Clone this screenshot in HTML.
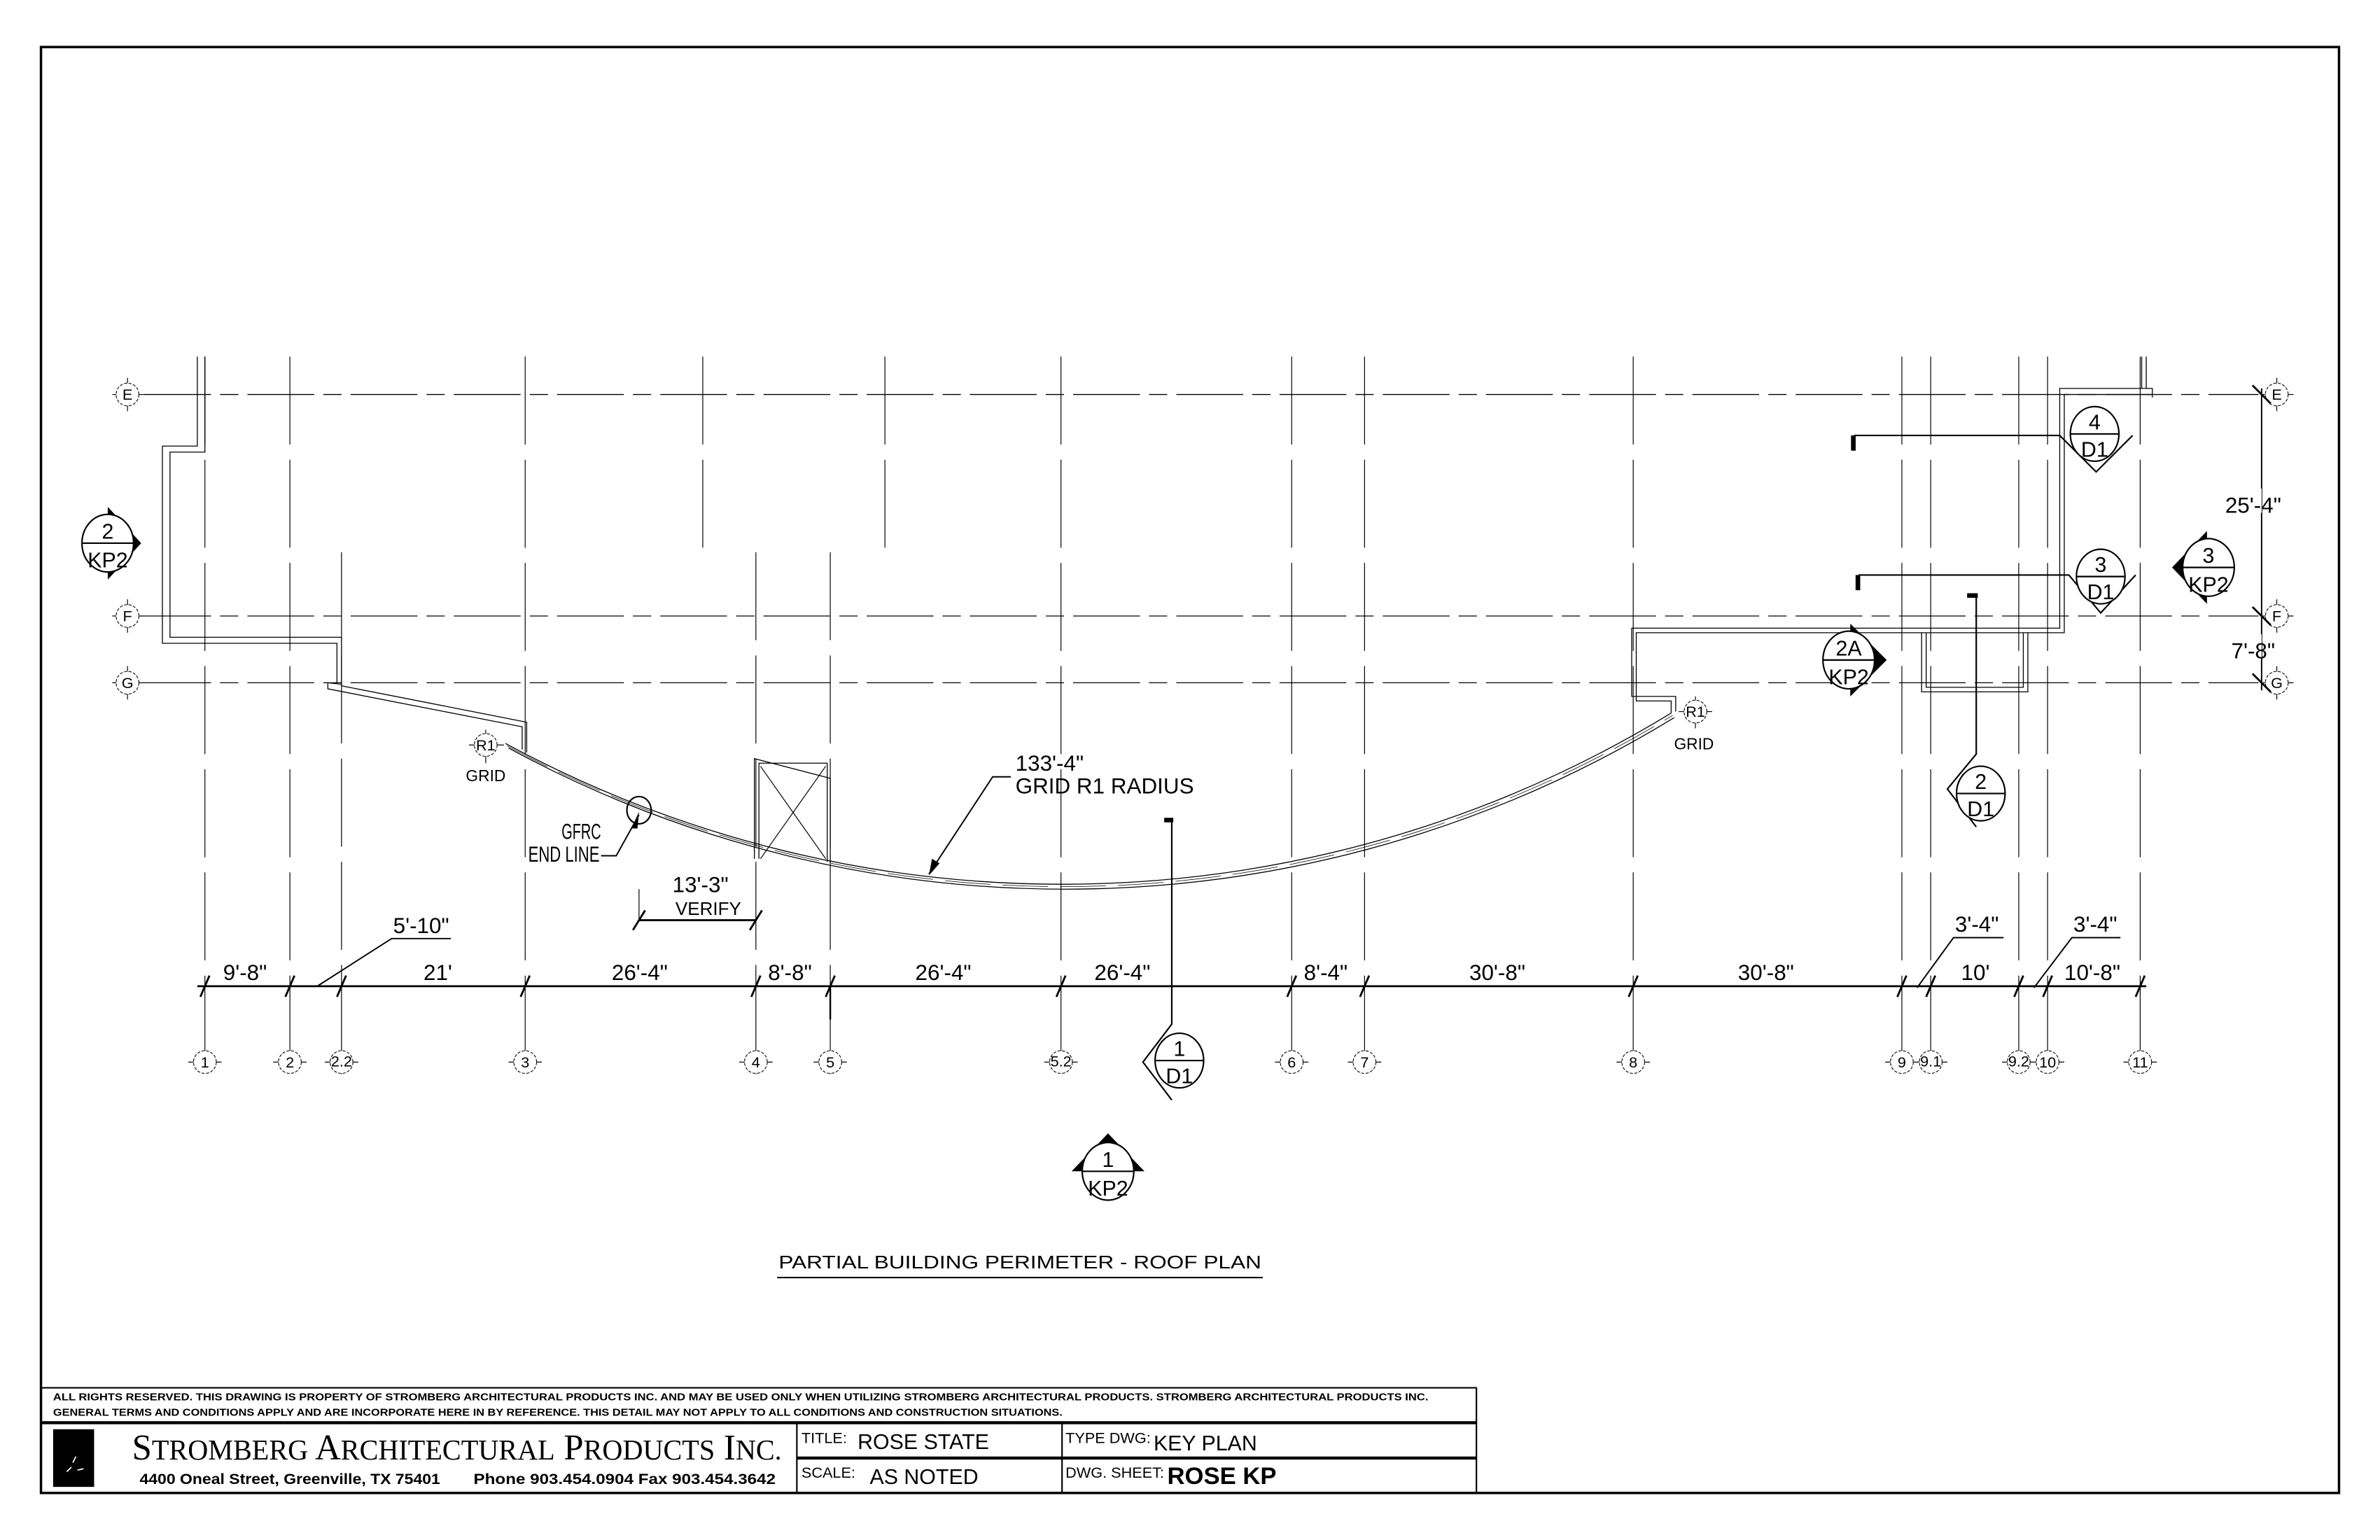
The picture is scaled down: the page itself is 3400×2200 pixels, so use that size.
<!DOCTYPE html>
<html><head><meta charset="utf-8"><style>
html,body{margin:0;padding:0;background:#fff;}
svg{display:block;}
text{font-family:"Liberation Sans Narrow","Liberation Sans",sans-serif;fill:#000;}
.g{stroke:#000;stroke-width:0.55;fill:none;}
.gh{stroke:#000;stroke-width:0.6;fill:none;stroke-dasharray:44 6 12 6;}
.gv{stroke:#000;stroke-width:0.55;fill:none;stroke-dasharray:58 10;}
.w{stroke:#000;stroke-width:0.6;fill:none;}
.d{stroke:#000;stroke-width:1.3;fill:none;}
.dim{font-size:14.5px;}
.gl{font-size:10px;text-anchor:middle;}
.mk{font-size:14px;text-anchor:middle;}
.bub{stroke:#000;stroke-width:0.5;fill:#fff;stroke-dasharray:2 1;}
</style></head><body>
<svg width="3400" height="2200" viewBox="0 0 1568 1015" preserveAspectRatio="none" xmlns="http://www.w3.org/2000/svg">
<rect x="0" y="0" width="1568" height="1015" fill="#fff"/>
<rect x="27" y="31" width="1514" height="953" fill="none" stroke="#000" stroke-width="1.6"/>

<line class="gh" x1="95" y1="260" x2="1488" y2="260"/>
<line class="gh" x1="95" y1="406" x2="1488" y2="406"/>
<line class="gh" x1="95" y1="450" x2="1488" y2="450"/>

<g class="gv">
<line x1="135" y1="235" x2="135" y2="708"/>
<line x1="191" y1="235" x2="191" y2="708"/>
<line x1="225" y1="364" x2="225" y2="708"/>
<line x1="346" y1="235" x2="346" y2="708"/>
<line x1="463" y1="235" x2="463" y2="364"/>
<line x1="583" y1="235" x2="583" y2="364"/>
<line x1="498" y1="364" x2="498" y2="708"/>
<line x1="547" y1="364" x2="547" y2="708"/>
<line x1="699" y1="235" x2="699" y2="708"/>
<line x1="851" y1="235" x2="851" y2="708"/>
<line x1="899" y1="235" x2="899" y2="708"/>
<line x1="1076" y1="235" x2="1076" y2="708"/>
<line x1="1253" y1="235" x2="1253" y2="708"/>
<line x1="1272" y1="235" x2="1272" y2="708"/>
<line x1="1330" y1="235" x2="1330" y2="708"/>
<line x1="1349" y1="235" x2="1349" y2="708"/>
<line x1="1410" y1="235" x2="1410" y2="708"/>
</g>

<g>
<line class="g" x1="74" y1="260" x2="95" y2="260"/><line class="g" x1="84" y1="249" x2="84" y2="271"/>
<circle class="bub" cx="84" cy="260" r="7.5"/><text class="gl" x="84" y="263.5">E</text>
<line class="g" x1="74" y1="406" x2="95" y2="406"/><line class="g" x1="84" y1="395" x2="84" y2="417"/>
<circle class="bub" cx="84" cy="406" r="7.5"/><text class="gl" x="84" y="409.5">F</text>
<line class="g" x1="74" y1="450" x2="95" y2="450"/><line class="g" x1="84" y1="439" x2="84" y2="461"/>
<circle class="bub" cx="84" cy="450" r="7.5"/><text class="gl" x="84" y="453.5">G</text>
</g>
<g>
<line class="g" x1="1490" y1="260" x2="1511" y2="260"/><line class="g" x1="1500" y1="249" x2="1500" y2="271"/>
<circle class="bub" cx="1500" cy="260" r="7.5"/><text class="gl" x="1500" y="263.5">E</text>
<line class="g" x1="1490" y1="406" x2="1511" y2="406"/><line class="g" x1="1500" y1="395" x2="1500" y2="417"/>
<circle class="bub" cx="1500" cy="406" r="7.5"/><text class="gl" x="1500" y="409.5">F</text>
<line class="g" x1="1490" y1="450" x2="1511" y2="450"/><line class="g" x1="1500" y1="439" x2="1500" y2="461"/>
<circle class="bub" cx="1500" cy="450" r="7.5"/><text class="gl" x="1500" y="453.5">G</text>
</g>
<line x1="1490" y1="256" x2="1490" y2="455" stroke="#000" stroke-width="0.9"/>
<line x1="1484" y1="254" x2="1496" y2="266" class="d"/>
<line x1="1484" y1="400" x2="1496" y2="412" class="d"/>
<line x1="1484" y1="444" x2="1496" y2="456" class="d"/>
<rect x="1462" y="322" width="28" height="16" fill="#fff"/>
<text class="dim" x="1466" y="338">25'-4"</text>
<rect x="1462" y="418" width="28" height="16" fill="#fff"/>
<text class="dim" x="1470" y="434">7'-8"</text>

<path class="w" d="M130,235 V294 H107 V424 H222 V450 M135,235 V298 H112 V420 H225 V452"/>
<path class="w" d="M216,450 L225,451 M216,450 L216,454 L344,479 V494 M225,452 L347,476 V496"/>
<path class="w" d="M333,490 A770.6,770.6 0 0 0 1101,470"/>
<path class="w" d="M335,493 A769,769 0 0 0 1103,473"/>
<path d="M334,491.5 A770,770 0 0 0 1102,471.5" stroke="#000" stroke-width="0.35" fill="none" stroke-dasharray="30 8"/>
<path class="w" d="M1101,470 V462 H1078 V417 H1360 V260 H1418 M1104,469 V459 H1075 V414 H1357 V256 H1418 V262 M1411,235 V256 M1414,235 V256"/>
<path class="w" d="M1266,417 V456 H1336 V417 M1269,417 V453 H1333 V417"/>
<path class="w" d="M497,566 V500 L547,513 V569 M500,566 V503 H545 V568"/>
<line class="g" x1="501" y1="505" x2="544" y2="566"/><line class="g" x1="544" y1="505" x2="501" y2="566"/>

<line class="g" x1="309" y1="491" x2="332" y2="491"/><line class="g" x1="320" y1="481" x2="320" y2="503"/>
<circle class="bub" cx="320" cy="491" r="7.5"/><text class="gl" x="320" y="494.5">R1</text>
<text x="320" y="515" font-size="10.5" text-anchor="middle" style="font-family:'Liberation Sans',sans-serif">GRID</text>
<line class="g" x1="1106" y1="469" x2="1128" y2="469"/><line class="g" x1="1117" y1="459" x2="1117" y2="480"/>
<circle class="bub" cx="1117" cy="469" r="7.5"/><text class="gl" x="1117" y="472.5">R1</text>
<text x="1116" y="494" font-size="10.5" text-anchor="middle" style="font-family:'Liberation Sans',sans-serif">GRID</text>

<!-- GFRC -->
<ellipse cx="421" cy="534" rx="8" ry="9" fill="none" stroke="#000" stroke-width="1"/>
<path d="M421,537 L406,564 H396" stroke="#000" stroke-width="0.9" fill="none"/>
<polygon points="421,535 416,546 420,546" fill="#000"/>
<text class="dim" x="370" y="553" textLength="26" lengthAdjust="spacingAndGlyphs">GFRC</text>
<text class="dim" x="348" y="568" textLength="47" lengthAdjust="spacingAndGlyphs">END LINE</text>

<text class="dim" x="669" y="508">133'-4"</text>
<text class="dim" x="669" y="523">GRID R1 RADIUS</text>
<path d="M666,512 H654 L612,576" stroke="#000" stroke-width="0.9" fill="none"/>
<polygon points="612,577 614,566 619,569" fill="#000"/>

<!-- 13'-3" verify -->
<text class="dim" x="443" y="588">13'-3"</text>
<text x="445" y="603" font-size="12">VERIFY</text>
<line x1="421" y1="606.5" x2="498" y2="606.5" class="d"/>
<line x1="417" y1="613" x2="425" y2="600" class="d"/>
<line x1="494" y1="613" x2="502" y2="600" class="d"/>
<line x1="421" y1="586" x2="421" y2="606" class="g"/>

<line x1="130" y1="650" x2="1414" y2="650" stroke="#000" stroke-width="1.3"/>
<g class="d">
<line x1="132" y1="657" x2="138" y2="643"/>
<line x1="188" y1="657" x2="194" y2="643"/>
<line x1="222" y1="657" x2="228" y2="643"/>
<line x1="343" y1="657" x2="349" y2="643"/>
<line x1="495" y1="657" x2="501" y2="643"/>
<line x1="544" y1="657" x2="550" y2="643"/>
<line x1="696" y1="657" x2="702" y2="643"/>
<line x1="848" y1="657" x2="854" y2="643"/>
<line x1="896" y1="657" x2="902" y2="643"/>
<line x1="1073" y1="657" x2="1079" y2="643"/>
<line x1="1250" y1="657" x2="1256" y2="643"/>
<line x1="1269" y1="657" x2="1275" y2="643"/>
<line x1="1327" y1="657" x2="1333" y2="643"/>
<line x1="1346" y1="657" x2="1352" y2="643"/>
<line x1="1407" y1="657" x2="1413" y2="643"/>
</g>
<line x1="547" y1="650" x2="547" y2="672" stroke="#000" stroke-width="1.1"/>
<g class="dim">
<text x="147" y="646">9'-8"</text>
<text x="279" y="646">21'</text>
<text x="403" y="646">26'-4"</text>
<text x="506" y="646">8'-8"</text>
<text x="603" y="646">26'-4"</text>
<text x="721" y="646">26'-4"</text>
<text x="859" y="646">8'-4"</text>
<text x="968" y="646">30'-8"</text>
<text x="1145" y="646">30'-8"</text>
<text x="1292" y="646">10'</text>
<text x="1360" y="646">10'-8"</text>
<text x="259" y="615">5'-10"</text>
<text x="1288" y="614">3'-4"</text>
<text x="1366" y="614">3'-4"</text>
</g>
<path d="M209,650 L258,618.6 H297" stroke="#000" stroke-width="0.9" fill="none"/>
<path d="M1263,651 L1287,618 H1320" stroke="#000" stroke-width="0.9" fill="none"/>
<path d="M1340,651 L1365,618 H1397" stroke="#000" stroke-width="0.9" fill="none"/>

<g>
<line class="g" x1="124" y1="700" x2="146" y2="700"/><circle class="bub" cx="135" cy="700" r="7.5"/><text class="gl" x="135" y="703.5">1</text>
<line class="g" x1="180" y1="700" x2="202" y2="700"/><circle class="bub" cx="191" cy="700" r="7.5"/><text class="gl" x="191" y="703.5">2</text>
<line class="g" x1="214" y1="700" x2="236" y2="700"/><circle class="bub" cx="225" cy="700" r="7.5"/><text class="gl" x="225" y="703" font-size="7">2.2</text>
<line class="g" x1="335" y1="700" x2="357" y2="700"/><circle class="bub" cx="346" cy="700" r="7.5"/><text class="gl" x="346" y="703.5">3</text>
<line class="g" x1="487" y1="700" x2="509" y2="700"/><circle class="bub" cx="498" cy="700" r="7.5"/><text class="gl" x="498" y="703.5">4</text>
<line class="g" x1="536" y1="700" x2="558" y2="700"/><circle class="bub" cx="547" cy="700" r="7.5"/><text class="gl" x="547" y="703.5">5</text>
<line class="g" x1="688" y1="700" x2="710" y2="700"/><circle class="bub" cx="699" cy="700" r="7.5"/><text class="gl" x="699" y="703" font-size="7">5.2</text>
<line class="g" x1="840" y1="700" x2="862" y2="700"/><circle class="bub" cx="851" cy="700" r="7.5"/><text class="gl" x="851" y="703.5">6</text>
<line class="g" x1="888" y1="700" x2="910" y2="700"/><circle class="bub" cx="899" cy="700" r="7.5"/><text class="gl" x="899" y="703.5">7</text>
<line class="g" x1="1065" y1="700" x2="1087" y2="700"/><circle class="bub" cx="1076" cy="700" r="7.5"/><text class="gl" x="1076" y="703.5">8</text>
<line class="g" x1="1242" y1="700" x2="1283" y2="700"/><circle class="bub" cx="1253" cy="700" r="7.5"/><text class="gl" x="1253" y="703.5">9</text>
<circle class="bub" cx="1272" cy="700" r="7.5"/><text class="gl" x="1272" y="703" font-size="7">9.1</text>
<line class="g" x1="1319" y1="700" x2="1360" y2="700"/><circle class="bub" cx="1330" cy="700" r="7.5"/><text class="gl" x="1330" y="703" font-size="7">9.2</text>
<circle class="bub" cx="1349" cy="700" r="7.5"/><text class="gl" x="1349" y="703.5">10</text>
<line class="g" x1="1399" y1="700" x2="1421" y2="700"/><circle class="bub" cx="1410" cy="700" r="7.5"/><text class="gl" x="1410" y="703.5">11</text>
</g>

<g>
<polygon points="71,334 93,358 71,382" fill="#000"/>
<ellipse cx="71" cy="358" rx="17" ry="19" fill="#fff" stroke="#000" stroke-width="1"/>
<line x1="54" y1="358" x2="88" y2="358" stroke="#000" stroke-width="1"/>
<text class="mk" x="71" y="355">2</text><text class="mk" x="71" y="374">KP2</text>

<polygon points="1454,350 1431,374 1454,398" fill="#000"/>
<ellipse cx="1455" cy="374" rx="17" ry="19" fill="#fff" stroke="#000" stroke-width="1"/>
<line x1="1438" y1="374" x2="1472" y2="374" stroke="#000" stroke-width="1"/>
<text class="mk" x="1455" y="371">3</text><text class="mk" x="1455" y="390">KP2</text>

<polygon points="1219,411 1243,435 1219,459" fill="#000"/>
<ellipse cx="1218" cy="435" rx="17" ry="19" fill="#fff" stroke="#000" stroke-width="1"/>
<line x1="1201" y1="435" x2="1235" y2="435" stroke="#000" stroke-width="1"/>
<text class="mk" x="1218" y="432">2A</text><text class="mk" x="1218" y="451">KP2</text>

<polygon points="706,772 730,747 754,772" fill="#000"/>
<ellipse cx="730" cy="772" rx="17" ry="19" fill="#fff" stroke="#000" stroke-width="1"/>
<line x1="713" y1="772" x2="747" y2="772" stroke="#000" stroke-width="1"/>
<text class="mk" x="730" y="769">1</text><text class="mk" x="730" y="788">KP2</text>
</g>

<g stroke="#000" fill="none" stroke-width="1">
<path d="M1222,297 V287 H1357 L1381,311 L1405,287"/>
<path d="M1225,389 V379 H1363 L1384,404 L1407,379"/>
<path d="M1302,392 V497 L1283,520 L1302,545"/>
<path d="M772,541 V675 L753,700 L772,725"/>
</g>
<rect x="1219.5" y="287" width="3" height="10" fill="#000"/>
<rect x="1222.5" y="379" width="3" height="10" fill="#000"/>
<rect x="1296" y="391" width="7" height="3" fill="#000"/>
<rect x="767" y="539" width="6" height="3" fill="#000"/>
<g>
<ellipse cx="1380" cy="286" rx="16" ry="18" fill="#fff" stroke="#000" stroke-width="1"/>
<line x1="1364" y1="286" x2="1396" y2="286" stroke="#000" stroke-width="1"/>
<text class="mk" x="1380" y="283">4</text><text class="mk" x="1380" y="301">D1</text>
<ellipse cx="1384" cy="380" rx="16" ry="18" fill="#fff" stroke="#000" stroke-width="1"/>
<line x1="1368" y1="380" x2="1400" y2="380" stroke="#000" stroke-width="1"/>
<text class="mk" x="1384" y="377">3</text><text class="mk" x="1384" y="395">D1</text>
<ellipse cx="1305" cy="523" rx="16" ry="18" fill="#fff" stroke="#000" stroke-width="1"/>
<line x1="1289" y1="523" x2="1321" y2="523" stroke="#000" stroke-width="1"/>
<text class="mk" x="1305" y="520">2</text><text class="mk" x="1305" y="538">D1</text>
<ellipse cx="777" cy="699" rx="16" ry="18" fill="#fff" stroke="#000" stroke-width="1"/>
<line x1="761" y1="699" x2="793" y2="699" stroke="#000" stroke-width="1"/>
<text class="mk" x="777" y="696">1</text><text class="mk" x="777" y="714">D1</text>
</g>

<text x="513" y="836" font-size="12" style="font-family:'Liberation Sans',sans-serif" textLength="318" lengthAdjust="spacingAndGlyphs">PARTIAL BUILDING PERIMETER - ROOF PLAN</text>
<line x1="512" y1="842" x2="832" y2="842" stroke="#000" stroke-width="1"/>

<g stroke="#000" fill="none">
<line x1="27" y1="914.7" x2="973" y2="914.7" stroke-width="1"/>
<line x1="27" y1="937.7" x2="973" y2="937.7" stroke-width="2"/>
<line x1="525" y1="961" x2="973" y2="961" stroke-width="2"/>
<line x1="525" y1="937.7" x2="525" y2="984" stroke-width="1"/>
<line x1="699.7" y1="937.7" x2="699.7" y2="984" stroke-width="1"/>
<line x1="972.7" y1="914.7" x2="972.7" y2="984" stroke-width="1"/>
</g>
<g font-size="6.6" font-weight="bold" style="font-family:'Liberation Sans',sans-serif">
<text x="35" y="923" textLength="906" lengthAdjust="spacingAndGlyphs">ALL RIGHTS RESERVED. THIS DRAWING IS PROPERTY OF STROMBERG ARCHITECTURAL PRODUCTS INC. AND MAY BE USED ONLY WHEN UTILIZING STROMBERG ARCHITECTURAL PRODUCTS.  STROMBERG ARCHITECTURAL PRODUCTS INC.</text>
<text x="35" y="933" textLength="665" lengthAdjust="spacingAndGlyphs">GENERAL TERMS AND CONDITIONS APPLY AND ARE INCORPORATE HERE IN BY REFERENCE.  THIS DETAIL MAY NOT APPLY TO ALL CONDITIONS AND CONSTRUCTION SITUATIONS.</text>
</g>
<rect x="35" y="942" width="27" height="38" fill="#000"/>
<path d="M44,970 l3,-3 M48,964 l2,-4 M51,969 l4,-1" stroke="#fff" stroke-width="0.8"/>
<text x="87" y="962" font-size="24" style="font-family:'Liberation Serif',serif" textLength="428" lengthAdjust="spacingAndGlyphs">S<tspan font-size="19">TROMBERG</tspan> A<tspan font-size="19">RCHITECTURAL</tspan> P<tspan font-size="19">RODUCTS</tspan> I<tspan font-size="19">NC.</tspan></text>
<text x="92" y="978" font-size="10" font-weight="bold" textLength="198" lengthAdjust="spacingAndGlyphs">4400 Oneal Street, Greenville, TX  75401</text>
<text x="312" y="978" font-size="10" font-weight="bold" textLength="199" lengthAdjust="spacingAndGlyphs">Phone 903.454.0904   Fax 903.454.3642</text>
<text x="528" y="951" font-size="10">TITLE:</text>
<text x="565" y="955" font-size="14">ROSE STATE</text>
<text x="528" y="974" font-size="10">SCALE:</text>
<text x="573" y="978" font-size="14">AS NOTED</text>
<text x="702" y="951" font-size="10">TYPE DWG:</text>
<text x="760" y="956" font-size="14">KEY PLAN</text>
<text x="702" y="974" font-size="10">DWG. SHEET:</text>
<text x="769" y="978" font-size="16" font-weight="bold" style="font-family:'Liberation Sans',sans-serif">ROSE KP</text>
</svg>
</body></html>
